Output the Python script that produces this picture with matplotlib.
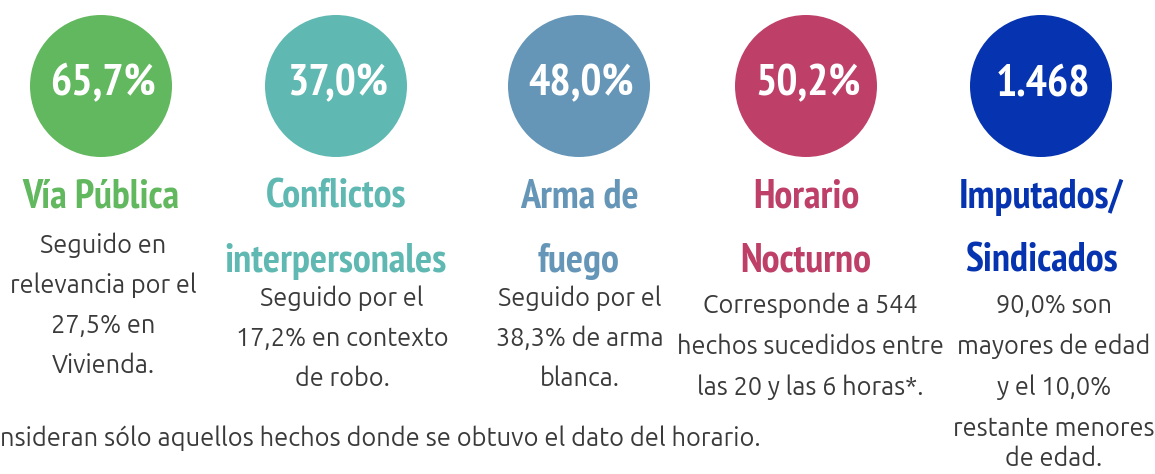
import matplotlib.pyplot as plt
from matplotlib.patches import Circle

# datos de las tarjetas
valores = ["65,7%", "37,0%", "48,0%", "50,2%", "1.468"]
titulos = [["Vía Pública"],
           ["Conflictos", "interpersonales"],
           ["Arma de", "fuego"],
           ["Horario", "Nocturno"],
           ["Imputados/", "Sindicados"]]
textos = [["Seguido en", "relevancia por el", "27,5% en", "Vivienda."],
          ["Seguido por el", "17,2% en contexto", "de robo."],
          ["Seguido por el", "38,3% de arma", "blanca."],
          ["Corresponde a 544", "hechos sucedidos entre", "las 20 y las 6 horas*."],
          ["90,0% son", "mayores de edad", "y el 10,0%", "restante menores", "de edad."]]
nota = "nsideran sólo aquellos hechos donde se obtuvo el dato del horario."
colores = ["#62b85e", "#5fb9b2", "#6596b8", "#be4069", "#0634b0"]

cx = [101, 336, 579, 806, 1041]
cx_txt = [103, 342, 580, 810, 1054]
cy, r = 86, 71
base_txt = [253, 306, 306, 313, 313]
paso_txt = [40, 40, 40, 41, 41]

fuente_tit = ['PT Sans Narrow', 'Roboto Condensed', 'DejaVu Sans']
fuente_txt = ['Ubuntu', 'PT Sans', 'DejaVu Sans']
gris = '#3a3a3a'

fig = plt.figure(figsize=(11.55, 4.74), dpi=100)
ax = fig.add_axes([0, 0, 1, 1])
ax.set_xlim(0, 1155)
ax.set_ylim(474, 0)
ax.axis('off')

for i in range(len(valores)):
    ax.add_patch(Circle((cx[i], cy), r, color=colores[i], lw=0))
    ax.text(cx[i] + 2, 95, valores[i], color='white', fontsize=32, fontweight='bold',
            family=fuente_tit, ha='center', va='baseline')
    for j, t in enumerate(titulos[i]):
        ax.text(cx[i], 208 + 64 * j, t, color=colores[i], fontsize=29,
                fontweight='bold', family=fuente_tit, ha='center', va='baseline')
    for j, t in enumerate(textos[i]):
        # la ultima linea queda cortada en el original; se sube un poco
        y = min(base_txt[i] + paso_txt[i] * j, 466)
        ax.text(cx_txt[i], y, t, color=gris, fontsize=18.2,
                family=fuente_txt, ha='center', va='baseline')

ax.text(0, 446, nota, color=gris, fontsize=18.4, family=fuente_txt,
        ha='left', va='baseline')

fig.savefig('out.png', dpi=100)
